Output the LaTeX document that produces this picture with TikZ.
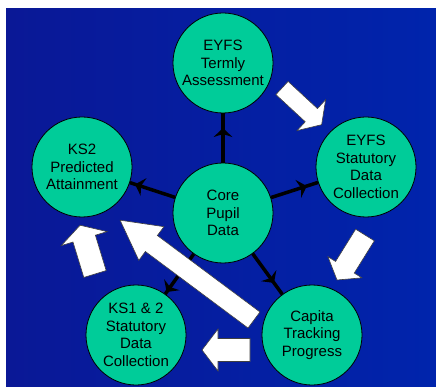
\documentclass[tikz,border=0pt]{standalone}
\usepackage{fontspec}
\setmainfont{Liberation Sans}
\usetikzlibrary{decorations.markings}

\definecolor{bgleft}{RGB}{10,24,150}
\definecolor{bgright}{RGB}{0,36,172}
\definecolor{stagegreen}{RGB}{0,204,153}

\begin{document}
\begin{tikzpicture}[x=1pt,y=-1pt
    , stage/.style = {circle,draw=black,line width=0.8pt,fill=stagegreen,minimum size=100pt,inner sep=0pt,align=center,font=\fontsize{15}{17.5}\selectfont}
    , link/.style = {line width=3.5pt,postaction={decorate},decoration={markings,mark=at position #1 with {\fill (5pt,0pt) -- (-4pt,9.5pt) -- (-1pt,0pt) -- (-4pt,-9.5pt) -- cycle;}}}
    , flow/.style = {fill=white,draw=black!75,line width=0.6pt,line join=miter}
]
\useasboundingbox (0,0) rectangle (436,387);
\fill[white] (0,0) rectangle (436,387);
\shade[left color=bgleft,right color=bgright] (6,9) rectangle (436,386);

% the stages of the data cycle
\node[stage] (core) at (223,213) {Core\\Pupil\\Data};
\node[stage] (termly) at (223,63) {EYFS\\Termly\\Assessment};
\node[stage] (eyfs) at (366,167) {EYFS\\Statutory\\Data\\Collection};
\node[stage] (ks2) at (82,167) {KS2\\Predicted\\Attainment};
\node[stage] (capita) at (312,335) {Capita\\Tracking\\Progress};
\node[stage] (ks) at (136,335) {KS1 \& 2\\Statutory\\Data\\Collection};

% core data feeds every stage
\foreach \t/\p in {termly/0.6, eyfs/0.66, ks2/0.78, capita/0.62, ks/0.85}
    \draw[link=\p] (core) -- (\t);

% block arrows: x/y of tail, angle, length, head length, head half width, shaft half width
\foreach \px/\py/\ang/\len/\hd/\hw/\sw in {282/88/-42.8/54/14/21/9, 365/235/-121.9/53/15/20/11, 250/350/180/48/16/21/11.5, 95/274/107/51/14/24/11.7, 254/320/143.3/167/39/21/10}
    \draw[flow,shift={(\px,\py)},rotate=\ang] (0,-\sw) -- (\len-\hd,-\sw) -- (\len-\hd,-\hw) -- (\len,0) -- (\len-\hd,\hw) -- (\len-\hd,\sw) -- (0,\sw) -- cycle;
\end{tikzpicture}
\end{document}
